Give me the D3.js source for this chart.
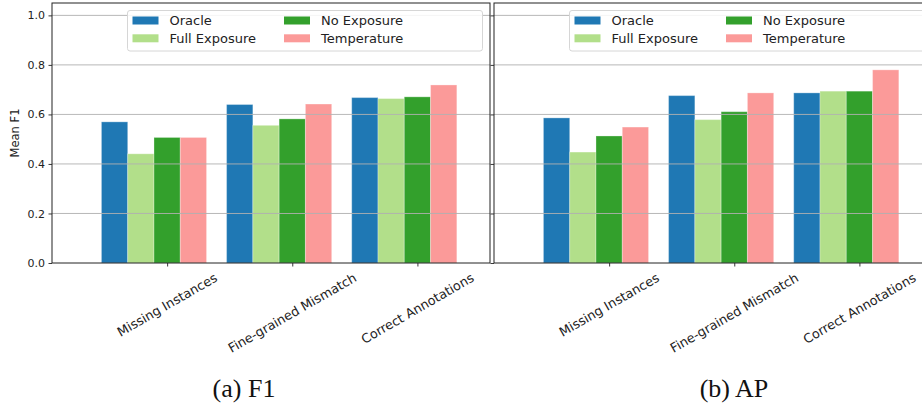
<!DOCTYPE html>
<html>
<head>
<meta charset="utf-8">
<script src="https://cdn.jsdelivr.net/npm/d3@7"></script>
<style>
  html, body { margin: 0; padding: 0; background: #fff; }
  svg { display: block; }
</style>
</head>
<body>
<svg id="chart" width="922" height="404"></svg>
<script>
// Categories, series and values
const categories = ["Missing Instances", "Fine-grained Mismatch", "Correct Annotations"];
const seriesNames = ["Oracle", "Full Exposure", "No Exposure", "Temperature"];
const seriesColors = ["#1f78b4", "#b2df8a", "#33a02c", "#fb9a99"];

// Panel (a): mean F1
const f1Oracle      = [0.570, 0.640, 0.668];
const f1FullExp     = [0.441, 0.556, 0.664];
const f1NoExp       = [0.507, 0.582, 0.671];
const f1Temperature = [0.507, 0.642, 0.719];

// Panel (b): AP
const apOracle      = [0.586, 0.676, 0.687];
const apFullExp     = [0.448, 0.579, 0.694];
const apNoExp       = [0.513, 0.611, 0.694];
const apTemperature = [0.549, 0.687, 0.780];

const yTicks = [0.0, 0.2, 0.4, 0.6, 0.8, 1.0];

const panels = [
  { caption: "(a) F1", ylabel: "Mean F1", showYLabels: true,
    values: [f1Oracle, f1FullExp, f1NoExp, f1Temperature],
    left: 52, right: 490, captionX: 244 },
  { caption: "(b) AP", ylabel: null, showYLabels: false,
    values: [apOracle, apFullExp, apNoExp, apTemperature],
    left: 494, right: 932, captionX: 734 }
];

const plotTop = 3, plotBottom = 263;
const barW = 0.21;
const sans = "DejaVu Sans, sans-serif";

const svg = d3.select("#chart");

const y = d3.scaleLinear().domain([0, 1.05]).range([plotBottom, plotTop]);

panels.forEach(p => {
  const x = d3.scaleLinear().domain([-0.92, 2.58]).range([p.left, p.right]);
  const g = svg.append("g");

  // bars
  p.values.forEach((vals, si) => {
    g.selectAll(null).data(vals).enter().append("rect")
      .attr("x", (d, ci) => x(ci + (si - 2) * barW - barW / 2))
      .attr("width", x(barW) - x(0))
      .attr("y", d => y(d))
      .attr("height", d => y(0) - y(d))
      .attr("fill", seriesColors[si])
      .attr("stroke", "#fff")
      .attr("stroke-opacity", 0.3)
      .attr("stroke-width", 1);
  });

  // horizontal grid, drawn over the bars
  g.selectAll(null).data(yTicks.slice(1)).enter().append("line")
    .attr("x1", p.left).attr("x2", p.right)
    .attr("y1", d => y(d)).attr("y2", d => y(d))
    .attr("stroke", "#b0b0b0").attr("stroke-width", 1).attr("stroke-opacity", 0.9);

  // y axis
  const yAxis = d3.axisLeft(y).tickValues(yTicks).tickSizeOuter(0).tickSizeInner(3.5).tickPadding(3.5)
    .tickFormat(p.showYLabels ? d3.format(".1f") : () => "");
  const ya = g.append("g").attr("transform", `translate(${p.left},0)`).call(yAxis);
  ya.select(".domain").remove();
  ya.selectAll(".tick line").attr("stroke", "#222").attr("stroke-width", 0.9);
  ya.selectAll(".tick text").attr("font-family", sans).attr("font-size", 11).attr("fill", "#222");

  // x axis (ticks only, labels drawn rotated below)
  const xAxis = d3.axisBottom(x).tickValues([0, 1, 2]).tickSizeOuter(0).tickSizeInner(3.5).tickFormat(() => "");
  const xa = g.append("g").attr("transform", `translate(0,${plotBottom})`).call(xAxis);
  xa.select(".domain").remove();
  xa.selectAll(".tick line").attr("stroke", "#222").attr("stroke-width", 0.9);

  // spines
  g.append("rect")
    .attr("x", p.left).attr("y", plotTop)
    .attr("width", p.right - p.left).attr("height", plotBottom - plotTop)
    .attr("fill", "none").attr("stroke", "#222").attr("stroke-width", 1);

  // rotated category labels, centred under each tick
  const fs = 12.8;
  categories.forEach((c, ci) => {
    const t = g.append("text")
      .attr("font-family", sans).attr("font-size", fs).attr("fill", "#222")
      .attr("text-anchor", "middle").attr("dominant-baseline", "central")
      .text(c);
    const L = t.node().getComputedTextLength();
    const h = fs * 1.0;
    const H = L * 0.5 + h * Math.cos(Math.PI / 6);
    const cx = x(ci), cy = 271 + H / 2;
    t.attr("transform", `translate(${cx},${cy}) rotate(-30)`);
  });

  // y label
  if (p.ylabel) {
    svg.append("text")
      .attr("font-family", sans).attr("font-size", 11.5).attr("fill", "#222")
      .attr("text-anchor", "middle").attr("dominant-baseline", "central")
      .attr("transform", `translate(15,${(plotTop + plotBottom) / 2}) rotate(-90)`)
      .text(p.ylabel);
  }

  // legend
  const lx = p.right - 362.5, ly = 10.5;
  const lg = svg.append("g").attr("transform", `translate(${lx},${ly})`);
  lg.append("rect").attr("width", 355).attr("height", 40.5).attr("rx", 2.5)
    .attr("fill", "#fff").attr("fill-opacity", 0.85)
    .attr("stroke", "#d6d6d6").attr("stroke-width", 1);
  seriesNames.forEach((name, si) => {
    const col = Math.floor(si / 2), row = si % 2;
    const px = col === 0 ? 5 : 156.5;
    const py = row === 0 ? 6 : 23.8;
    lg.append("rect").attr("x", px).attr("y", py).attr("width", 26).attr("height", 8)
      .attr("fill", seriesColors[si]);
    lg.append("text").attr("x", px + 37).attr("y", py + 8.8)
      .attr("font-family", sans).attr("font-size", 13).attr("fill", "#222")
      .text(name);
  });

  // caption
  svg.append("text")
    .attr("x", p.captionX).attr("y", 397)
    .attr("text-anchor", "middle")
    .attr("font-family", "Liberation Serif, Times New Roman, serif")
    .attr("font-size", 26).attr("fill", "#111")
    .text(p.caption);
});
</script>
</body>
</html>
